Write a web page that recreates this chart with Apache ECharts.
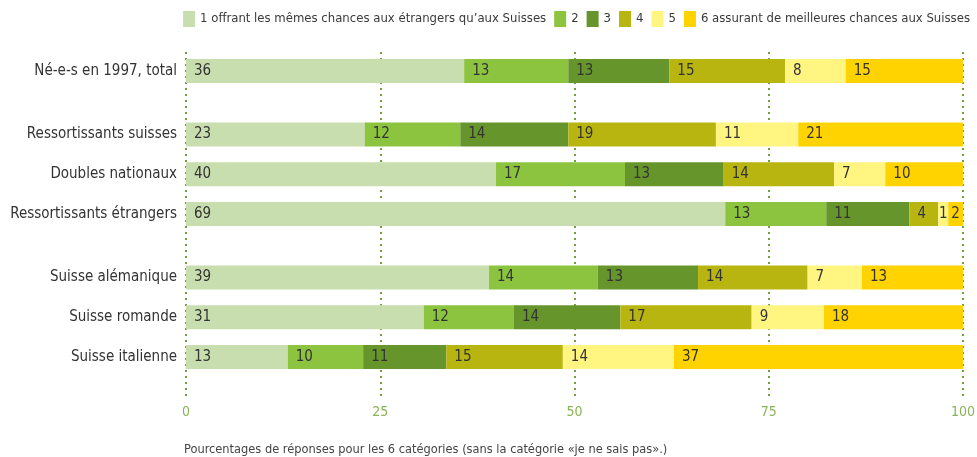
<!DOCTYPE html>
<html>
<head>
<meta charset="utf-8">
<script src="https://cdn.jsdelivr.net/npm/echarts@6/dist/echarts.min.js"></script>
<style>html,body{margin:0;padding:0;background:#fff}#c{width:977px;height:457px}</style>
</head>
<body>
<div id="c"></div>
<script>
// ---- data ----
const categories = ['Né-e-s en 1997, total', 'Ressortissants suisses', 'Doubles nationaux', 'Ressortissants étrangers', 'Suisse alémanique', 'Suisse romande', 'Suisse italienne'];
const seriesNames = ['1 offrant les mêmes chances aux étrangers qu’aux Suisses', '2', '3', '4', '5', '6 assurant de meilleures chances aux Suisses'];
const s1 = [35.8, 23.0, 39.9, 69.4, 39.0, 30.6, 13.1];
const s2 = [13.4, 12.3, 16.6, 13.0, 14.0, 11.6, 9.7];
const s3 = [13.0, 13.9, 12.7, 10.7, 12.9, 13.7, 10.7];
const s4 = [14.9, 19.0, 14.2, 3.7, 14.1, 16.9, 15.0];
const s5 = [7.8, 10.6, 6.6, 1.3, 7.0, 9.3, 14.3];
const s6 = [15.1, 21.2, 10.0, 1.9, 13.0, 17.9, 37.2];
const xTicks = [0, 25, 50, 75, 100];
const footnote = 'Pourcentages de réponses pour les 6 catégories (sans la catégorie «je ne sais pas».)';

// ---- layout (row slots with group gaps) ----
const rowSlot = [0, 8, 13, 18, 26, 31, 36];
const nSlots = 37;
const colors = ['#c9deae', '#8cc43f', '#66952c', '#b8b511', '#fff580', '#ffd300'];
const FONT = "'Liberation Sans Narrow', 'DejaVu Sans Condensed', 'Roboto Condensed', sans-serif";

const slotCats = [];
const slotLabel = {};
for (let i = 0; i < nSlots; i++) slotCats.push(String(i));
categories.forEach((c, k) => { slotLabel[String(rowSlot[k])] = c; });

function expand(arr) {
  const out = new Array(nSlots).fill(null);
  arr.forEach((v, k) => {
    out[rowSlot[k]] = {
      value: v,
      label: v < 3 ? { position: 'inside' } : undefined
    };
  });
  return out;
}

const allValues = [s1, s2, s3, s4, s5, s6];
const series = allValues.map((arr, i) => ({
  name: seriesNames[i],
  type: 'bar',
  stack: 'total',
  xAxisIndex: 1,
  yAxisIndex: 1,
  barWidth: 24,
  clip: false,
  itemStyle: { color: colors[i] },
  label: {
    show: true,
    position: 'insideLeft',
    distance: 8,
    color: '#333',
    fontSize: 15,
    fontFamily: FONT,
    formatter: p => Math.round(p.value)
  },
  emphasis: { disabled: true },
  data: expand(arr)
}));

const chart = echarts.init(document.getElementById('c'), null, { renderer: 'canvas' });
chart.setOption({
  animation: false,
  textStyle: { fontFamily: FONT },
  title: {
    text: footnote,
    left: 179,
    top: 438,
    textStyle: { fontSize: 12.7, fontWeight: 'normal', color: '#444', fontFamily: FONT }
  },
  legend: {
    right: 2,
    top: 6,
    itemWidth: 12,
    itemHeight: 16,
    itemGap: 8,
    icon: 'rect',
    textStyle: { fontSize: 13, color: '#3a3a3a', fontFamily: FONT },
    data: seriesNames
  },
  grid: [
    { left: 186, right: 14, top: 52, bottom: 61, outerBoundsMode: 'none', containLabel: false },
    { left: 186, right: 14, top: 67, bottom: 96, outerBoundsMode: 'none', containLabel: false }
  ],
  xAxis: [
    {
      gridIndex: 0,
      type: 'value',
      min: xTicks[0],
      max: xTicks[xTicks.length - 1],
      interval: 25,
      axisLine: { show: false },
      axisTick: { show: false },
      axisLabel: { color: '#8ab35a', fontSize: 14, margin: 9, fontFamily: FONT },
      splitLine: { show: true, lineStyle: { color: '#72a03e', width: 2, type: [2, 4] } }
    },
    { gridIndex: 1, type: 'value', min: 0, max: 100, show: false }
  ],
  yAxis: [
    { gridIndex: 0, type: 'value', show: false },
    {
      gridIndex: 1,
      type: 'category',
      inverse: true,
      data: slotCats,
      axisLine: { show: false },
      axisTick: { show: false },
      splitLine: { show: false },
      axisLabel: {
        interval: 0,
        margin: 9,
        color: '#333',
        fontSize: 15,
        fontFamily: FONT,
        formatter: v => slotLabel[v] || ''
      }
    }
  ],
  series: series
});
</script>
</body>
</html>
